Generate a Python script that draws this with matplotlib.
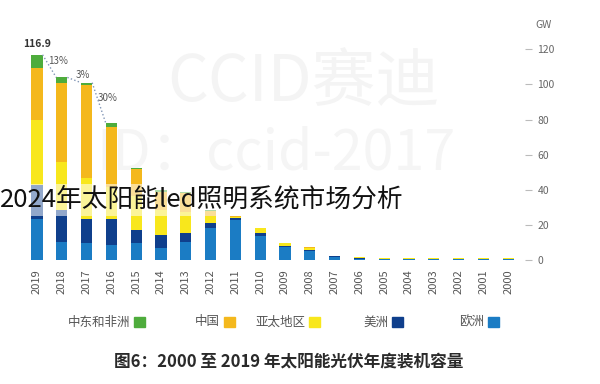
import numpy as np
import matplotlib
matplotlib.use("Agg")
import matplotlib.pyplot as plt
from matplotlib.patches import Rectangle

plt.rcParams['font.family'] = ['Noto Sans CJK SC', 'DejaVu Sans']

# installed capacity per year, GW (2000 .. 2019)
years = list(range(2000, 2020))
europe   = [0.3, 0.3, 0.3, 0.3, 0.7, 0.7, 0.8, 1.8, 5.4, 7.2, 13.7, 22.8, 18.2, 10.3, 6.8, 9.7, 8.5, 9.7, 10.3, 23.5]
americas = [0.05, 0.05, 0.05, 0.05, 0.1, 0.1, 0.15, 0.3, 0.5, 0.8, 1.7, 1.2, 2.8, 5.1, 7.4, 7.4, 14.8, 13.7, 18.2, 19.2]
asia_pac = [0.9, 0.9, 0.9, 0.9, 0.6, 0.6, 0.6, 0.4, 1.2, 1.5, 2.8, 0.5, 4.0, 12.0, 14.0, 19.5, 18.2, 23.3, 27.5, 37.1]
china    = [0.0, 0.0, 0.0, 0.0, 0.0, 0.0, 0.0, 0.0, 0.1, 0.1, 0.3, 0.3, 3.0, 10.9, 10.6, 15.0, 34.5, 53.0, 44.6, 29.8]
mea      = [0.0, 0.0, 0.0, 0.0, 0.0, 0.0, 0.0, 0.0, 0.0, 0.0, 0.0, 0.0, 0.2, 0.5, 1.0, 1.0, 1.9, 1.3, 3.4, 7.3]

series = [europe, americas, asia_pac, china, mea]
names = ['欧洲', '美洲', '亚太地区', '中国', '中东和非洲']
colors = ['#1b7cc4', '#0f3f8c', '#f8e71c', '#f4b81c', '#4eac3c']

growth_pairs = [(2019, 2018), (2018, 2017), (2017, 2016)]
growth_labels = ['13%', '3%', '30%']
top_label = '116.9'

fig = plt.figure(figsize=(6, 3.84), dpi=100)
ax = fig.add_axes([20 / 600, (384 - 262) / 384, 505 / 600, 232 / 384])
ax.set_facecolor('none')
ax.set_zorder(1)

# faint watermark behind
fig.text(0.505, 0.785, 'CCID赛迪', fontsize=46, color='#f4f4f4', ha='center', va='center', zorder=-5)
fig.text(0.46, 0.6, 'ID：ccid-2017', fontsize=40, color='#f5f5f5', ha='center', va='center', zorder=-5)

w = 0.45
bottom = np.zeros(len(years))
for vals, c in zip(series, colors):
    ax.bar(years, vals, width=w, bottom=bottom, color=c, linewidth=0)
    bottom += np.array(vals)
totals = dict(zip(years, bottom))

ax.text(2019, totals[2019] + 3, top_label, ha='center', va='bottom', fontsize=7.5,
        fontweight='bold', color='#333333')
for (a, b), lab in zip(growth_pairs, growth_labels):
    ax.plot([a - w / 2, b + w / 2], [totals[a], totals[b]], ls=':', color='#8095b5', lw=1)
    ax.text(b + 0.15, (totals[a] + totals[b]) / 2 + 3, lab, ha='center', va='center',
            fontsize=7, color='#555555')

ax.set_xlim(2019.685, 1999.32)
ax.set_ylim(-1.14, 131)
ax.set_xticks(years)
ax.set_xticklabels([str(y) for y in years], rotation=90, fontsize=8, color='#555555')
ax.tick_params(axis='x', length=0, pad=5)
ax.yaxis.tick_right()
ax.set_yticks(range(0, 121, 20))
ax.tick_params(axis='y', length=5, width=0.8, color='#bbbbbb', pad=4, labelsize=7.5,
               labelcolor='#666666')
for s in ax.spines.values():
    s.set_visible(False)
fig.text(544 / 600, 1 - 25 / 384, 'GW', fontsize=7.5, color='#666666', ha='center', va='center')

# legend, squares to the right of the names
sq_x = [488, 392, 309, 224, 134]
for name, c, x in zip(names, colors, sq_x):
    fig.patches.append(Rectangle((x / 600, (384 - 327) / 384), 11 / 600, 10 / 384,
                                 transform=fig.transFigure, color=c, figure=fig))
    fig.text((x - 4) / 600, (384 - 322) / 384, name, fontsize=9, color='#555555',
             ha='right', va='center')

fig.text(289 / 600, (384 - 362) / 384, '图6：2000 至 2019 年太阳能光伏年度装机容量',
         fontsize=12, fontweight='bold', color='#2a2a2a', ha='center', va='center')

fig.text(0.0, (384 - 200) / 384, '2024年太阳能led照明系统市场分析', fontsize=18.5,
         color='#111111', ha='left', va='center', zorder=5,
         bbox=dict(boxstyle='square,pad=0.12', fc='white', ec='none', alpha=0.55))

fig.savefig('out.png', dpi=100)
